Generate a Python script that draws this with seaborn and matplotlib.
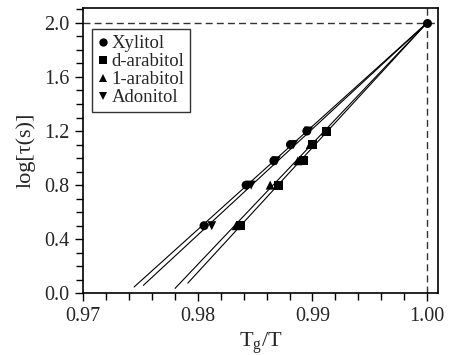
import numpy as np
import pandas as pd
import matplotlib
matplotlib.use('Agg')
import matplotlib.pyplot as plt
from matplotlib.lines import Line2D
from matplotlib.ticker import MultipleLocator
import seaborn as sns

# ── data ─────────────────────────────────────────────────────
compounds = ['Xylitol', 'd-arabitol', '1-arabitol', 'Adonitol']
log_tau = [0.5, 0.8, 0.98, 1.1, 1.2]

tgt_xylitol = [0.98054, 0.98421, 0.98663, 0.98808, 0.98951]
tgt_darabitol = [0.98369, 0.98703, 0.98921, 0.99000, 0.99126]
tgt_larabitol = [0.98334, 0.98631, 0.98873, 0.98980, 0.99111]
tgt_adonitol = [0.98121, 0.98465, 0.98683, 0.98834, 0.98965]

# all curves meet at Tg/T = 1, log tau = 2
anchor_x, anchor_y = 1.0, 2.0
# where each fitted line starts on the left
fit_x_start = [0.97443, 0.97912, 0.97801, 0.97524]

markers = {'Xylitol': 'o', 'd-arabitol': 's', '1-arabitol': '^', 'Adonitol': 'v'}

# ── build long table ─────────────────────────────────────────
series = [tgt_xylitol, tgt_darabitol, tgt_larabitol, tgt_adonitol]
rows = []
for name, xs in zip(compounds, series):
    for x, y in zip(xs, log_tau):
        rows.append((name, x, y))
df = pd.DataFrame(rows, columns=['compound', 'TgT', 'logtau'])

# ── style ────────────────────────────────────────────────────
sns.set_style('ticks')
plt.rcParams['font.family'] = ['Liberation Serif', 'DejaVu Serif']
plt.rcParams['mathtext.fontset'] = 'custom'
plt.rcParams['mathtext.rm'] = 'Liberation Serif'
plt.rcParams['mathtext.it'] = 'Liberation Serif:italic'

fig = plt.figure(figsize=(4.49, 3.55), dpi=100)
ax = fig.add_axes([0.1855, 0.1738, 0.7911, 0.8037])

# reference dashed lines
ax.axhline(anchor_y, color='#333333', lw=1.0, ls=(0, (5, 3)), zorder=1)
ax.axvline(anchor_x, color='#333333', lw=1.0, ls=(0, (5, 3)), zorder=1)

# fitted lines through the anchor point (least squares, slope only)
for name, xs, x0 in zip(compounds, series, fit_x_start):
    dx = np.array(xs) - anchor_x
    dy = np.array(log_tau) - anchor_y
    m = np.sum(dx * dy) / np.sum(dx * dx)
    xx = np.array([x0, anchor_x])
    ax.plot(xx, anchor_y + m * (xx - anchor_x), color='black', lw=0.8, zorder=2)

sns.scatterplot(data=df, x='TgT', y='logtau', style='compound',
                markers=markers, color='black', s=42, linewidth=0,
                legend=False, ax=ax, zorder=3)
ax.scatter([anchor_x], [anchor_y], color='black', s=42, marker='o',
           linewidth=0, zorder=4)

ax.set_xlim(0.97, 1.001)
ax.set_ylim(0.0, 2.11)
ax.xaxis.set_major_locator(MultipleLocator(0.01))
ax.xaxis.set_minor_locator(MultipleLocator(0.002))
ax.yaxis.set_major_locator(MultipleLocator(0.4))
ax.yaxis.set_minor_locator(MultipleLocator(0.1))
ax.xaxis.set_major_formatter(plt.FormatStrFormatter('%.2f'))
ax.yaxis.set_major_formatter(plt.FormatStrFormatter('%.1f'))
ax.tick_params(which='major', direction='out', length=6, width=1.0,
               labelsize=14.5, color='black', pad=4)
ax.tick_params(which='minor', direction='out', length=5, width=1.0,
               color='black')
for sp in ax.spines.values():
    sp.set_color('black')
    sp.set_linewidth(1.2)

ax.set_xlabel(r'T$_\mathrm{g}$/T', fontsize=16, labelpad=3)
ax.set_ylabel('log[τ(s)]', fontsize=16, labelpad=6)

handles = [Line2D([], [], ls='none', marker=markers[c], color='black',
                  markersize=6, markeredgewidth=0) for c in compounds]
leg = ax.legend(handles, compounds, loc='upper left',
                bbox_to_anchor=(0.025, 0.925), fontsize=13.5,
                frameon=True, fancybox=False, edgecolor='black',
                handlelength=0.6, handletextpad=0.15, borderpad=0.3,
                labelspacing=0.05, borderaxespad=0)
leg.get_frame().set_linewidth(1.0)

plt.savefig('out.png', dpi=100)
plt.close()
